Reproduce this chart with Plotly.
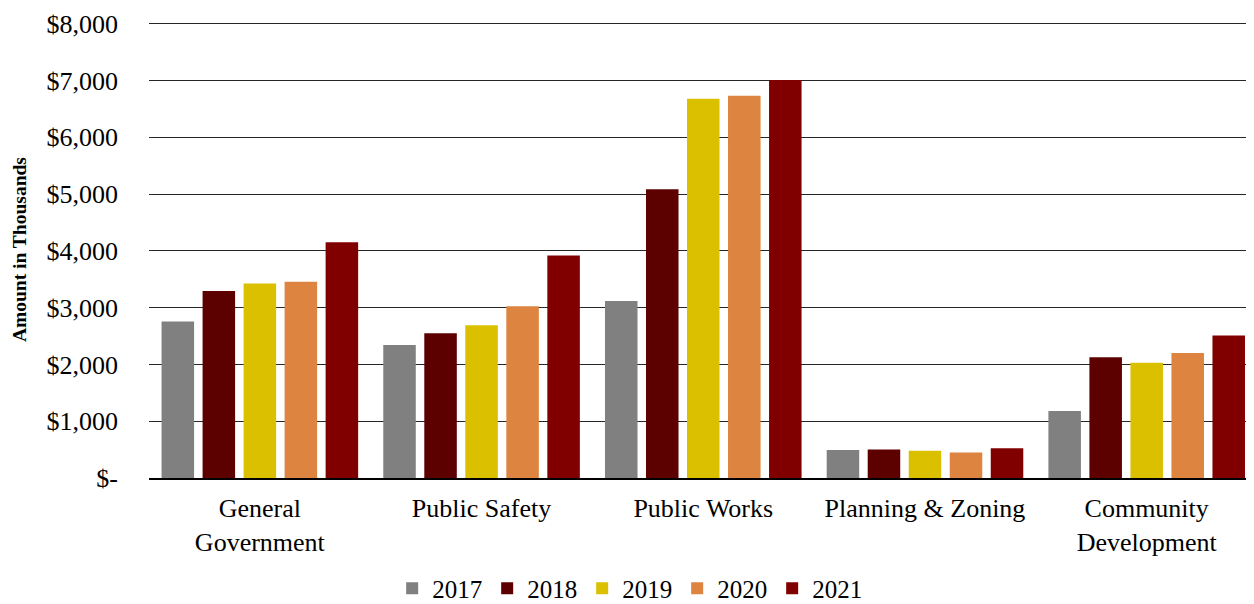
import plotly.graph_objects as go

categories = ["General<br>Government", "Public Safety", "Public Works",
              "Planning & Zoning", "Community<br>Development"]
years = ["2017", "2018", "2019", "2020", "2021"]
values = {
    "2017": [2755, 2340, 3115, 495, 1180],
    "2018": [3295, 2550, 5085, 500, 2125],
    "2019": [3425, 2690, 6680, 480, 2030],
    "2020": [3455, 3025, 6730, 450, 2200],
    "2021": [4150, 3920, 7010, 525, 2510],
}
colors = {
    "2017": "#808080",
    "2018": "#5C0000",
    "2019": "#DBC000",
    "2020": "#DC8440",
    "2021": "#800000",
}
ytickvals = [0, 1000, 2000, 3000, 4000, 5000, 6000, 7000, 8000]
yticktext = ["$-", "$1,000", "$2,000", "$3,000", "$4,000", "$5,000",
             "$6,000", "$7,000", "$8,000"]

FONT = "Liberation Serif, Times New Roman, serif"

fig = go.Figure()
for y in years:
    fig.add_trace(go.Bar(
        name=y, x=categories, y=values[y],
        marker=dict(color=colors[y], line=dict(width=0)),
    ))

# page body has an 8px default margin: figure sized/offset to compensate
fig.update_layout(
    width=1246, height=596,
    margin=dict(l=141, r=0, t=14, b=126, autoexpand=False),
    paper_bgcolor="white", plot_bgcolor="white",
    barmode="group", bargap=0.075, bargroupgap=0.207,
    font=dict(family=FONT, color="black", size=26),
    showlegend=True,
    legend=dict(orientation="h", xanchor="center", x=0.435,
                yref="container", yanchor="middle", y=0.026,
                font=dict(family=FONT, size=25, color="black"),
                bgcolor="rgba(0,0,0,0)"),
    annotations=[dict(
        text="<b>Amount in Thousands</b>", textangle=-90,
        xref="paper", yref="paper", x=-0.1176, y=0.5,
        xanchor="center", yanchor="middle", showarrow=False,
        font=dict(family=FONT, size=19.5, color="black"),
    )],
)
fig.update_xaxes(
    range=[-0.5, 4.484], showgrid=False, automargin=False,
    showline=True, linecolor="black", linewidth=2,
    ticks="", tickfont=dict(family=FONT, size=26, color="black"),
    ticklabelstandoff=6,
)
fig.update_yaxes(
    range=[0, 8030], tickvals=ytickvals, ticktext=yticktext,
    showgrid=True, gridcolor="#262626", gridwidth=1, automargin=False,
    zeroline=False, showline=False, ticks="",
    tickfont=dict(family=FONT, size=26, color="black"),
    ticklabelstandoff=30,
)

fig.write_html("out.html")
